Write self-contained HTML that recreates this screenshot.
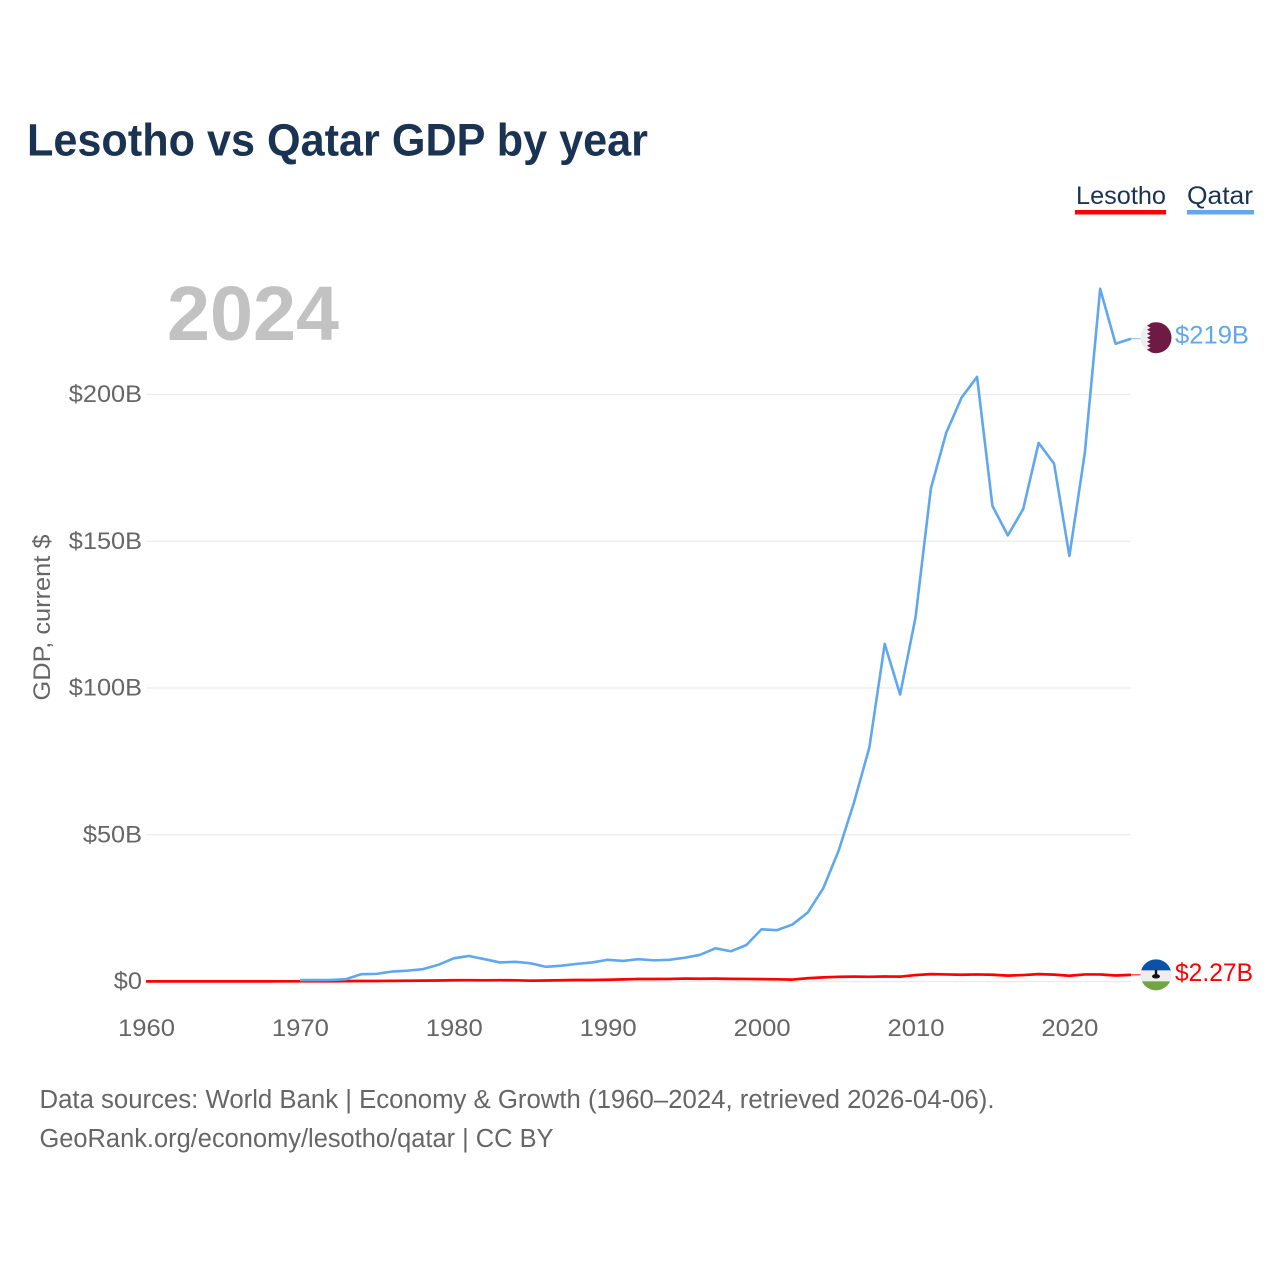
<!DOCTYPE html>
<html lang="en">
<head>
<meta charset="utf-8">
<title>Lesotho vs Qatar GDP by year</title>
<style>
html,body{margin:0;padding:0;background:#fff;width:1280px;height:1280px;overflow:hidden}
svg{display:block}
text{font-family:"Liberation Sans",sans-serif}
</style>
</head>
<body>
<svg id="chart" width="1280" height="1280" viewBox="0 0 1280 1280" xmlns="http://www.w3.org/2000/svg">
  <defs>
    <clipPath id="flag-clip-qatar"><circle cx="0" cy="0" r="15.5"></circle></clipPath>
    <clipPath id="flag-clip-lesotho"><circle cx="0" cy="0" r="15.5"></circle></clipPath>
  </defs>
  <text x="27" y="155.5" font-size="45" font-weight="700" fill="#1a3353" textLength="621" lengthAdjust="spacingAndGlyphs">Lesotho vs Qatar GDP by year</text>

  <g>
    <g>
      <text x="1076" y="204" font-size="25" fill="#1a3353" textLength="90" lengthAdjust="spacingAndGlyphs">Lesotho</text>
      <rect x="1075" y="210" width="91" height="4.5" fill="#ff0000"></rect>
    </g>
    <g>
      <text x="1187" y="204" font-size="25" fill="#1a3353" textLength="66" lengthAdjust="spacingAndGlyphs">Qatar</text>
      <rect x="1187" y="210" width="67" height="4.5" fill="#60a8ee"></rect>
    </g>
  </g>

  <text x="167" y="340" font-size="77" font-weight="700" fill="#c2c2c2" textLength="172" lengthAdjust="spacingAndGlyphs">2024</text>
  <text transform="translate(50,617.5) rotate(-90)" text-anchor="middle" font-size="24" fill="#666666" textLength="166" lengthAdjust="spacingAndGlyphs">GDP, current $</text>

  <g id="grid"></g>
  <g id="y-ticks"></g>
  <g id="x-ticks"></g>
  <g id="series"></g>
  <g id="ends"></g>

  <text x="39.5" y="1108" font-size="25.5" fill="#666666" textLength="955" lengthAdjust="spacingAndGlyphs">Data sources: World Bank | Economy &amp; Growth (1960–2024, retrieved 2026-04-06).</text>
  <text x="39.5" y="1147" font-size="25.5" fill="#666666" textLength="514" lengthAdjust="spacingAndGlyphs">GeoRank.org/economy/lesotho/qatar | CC BY</text>
</svg>

<script>
const xTickYears = [1960, 1970, 1980, 1990, 2000, 2010, 2020];
const yTickValues = [0, 50, 100, 150, 200];
const yTickLabels = ["$0", "$50B", "$100B", "$150B", "$200B"];

const lesothoYears = [1960,1961,1962,1963,1964,1965,1966,1967,1968,1969,1970,1971,1972,1973,1974,1975,1976,1977,1978,1979,1980,1981,1982,1983,1984,1985,1986,1987,1988,1989,1990,1991,1992,1993,1994,1995,1996,1997,1998,1999,2000,2001,2002,2003,2004,2005,2006,2007,2008,2009,2010,2011,2012,2013,2014,2015,2016,2017,2018,2019,2020,2021,2022,2023,2024];
const lesothoValues = [0.03,0.03,0.03,0.04,0.04,0.05,0.05,0.05,0.05,0.06,0.07,0.07,0.08,0.13,0.17,0.18,0.2,0.25,0.3,0.35,0.43,0.45,0.4,0.45,0.4,0.27,0.35,0.42,0.5,0.5,0.6,0.72,0.85,0.85,0.87,1.0,0.93,0.97,0.9,0.88,0.8,0.75,0.65,1.1,1.4,1.6,1.65,1.6,1.7,1.65,2.2,2.5,2.4,2.3,2.4,2.3,2.0,2.2,2.5,2.35,1.95,2.4,2.4,2.05,2.27];
const lesothoLabel = "$2.27B";

const qatarYears = [1970,1971,1972,1973,1974,1975,1976,1977,1978,1979,1980,1981,1982,1983,1984,1985,1986,1987,1988,1989,1990,1991,1992,1993,1994,1995,1996,1997,1998,1999,2000,2001,2002,2003,2004,2005,2006,2007,2008,2009,2010,2011,2012,2013,2014,2015,2016,2017,2018,2019,2020,2021,2022,2023,2024];
const qatarValues = [0.5,0.5,0.55,0.8,2.5,2.6,3.4,3.7,4.2,5.7,7.9,8.7,7.6,6.5,6.7,6.2,5.0,5.4,6.0,6.5,7.4,7.0,7.6,7.2,7.4,8.1,9.1,11.3,10.3,12.4,17.8,17.5,19.4,23.5,31.7,44.5,60.9,79.7,115,97.8,124,168,187,199,206,162,152,161,183.5,176.5,145,180,236,217.3,219];
const qatarLabel = "$219B";

const SVG_NS = "http://www.w3.org/2000/svg";
const xScale = function (year) { return 146 + (year - 1960) * 15.39; };
const yScale = function (value) { return 981.5 - value * 2.935; };

function make(tag, parent, attrs) {
  const el = document.createElementNS(SVG_NS, tag);
  Object.keys(attrs).forEach(function (k) { el.setAttribute(k, attrs[k]); });
  parent.appendChild(el);
  return el;
}
function linePath(years, values) {
  return years.map(function (yr, i) {
    return (i ? "L" : "M") + xScale(yr).toFixed(2) + " " + yScale(values[i]).toFixed(2);
  }).join(" ");
}

const grid = document.getElementById("grid");
const yTicks = document.getElementById("y-ticks");
const xTicks = document.getElementById("x-ticks");
const series = document.getElementById("series");
const ends = document.getElementById("ends");

yTickValues.forEach(function (v, i) {
  const ln = make("line", grid, {x1: 147, x2: 1131, y1: yScale(v), y2: yScale(v), stroke: "#ebebeb", "stroke-width": 1.3});
  
  
  const t = make("text", yTicks, {x: 142, y: yScale(v) + 7.5, "text-anchor": "end", "font-size": 24, fill: "#666666"});
  
  
  t.textContent = yTickLabels[i];
  t.setAttribute("textLength", (t.getComputedTextLength() * 1.055).toFixed(1));
  t.setAttribute("lengthAdjust", "spacingAndGlyphs");
});

xTickYears.forEach(function (yr) {
  const t = make("text", xTicks, {x: xScale(yr) + 0.5, y: 1036, "text-anchor": "middle", "font-size": 24, fill: "#666666"});
  
  
  t.textContent = String(yr);
  t.setAttribute("textLength", "57");
  t.setAttribute("lengthAdjust", "spacingAndGlyphs");
});

const lesothoLine = make("path", series, {d: linePath(lesothoYears, lesothoValues), fill: "none", stroke: "#ff0000", "stroke-width": 2.7, "stroke-linejoin": "round"});


const qatarLine = make("path", series, {d: linePath(qatarYears, qatarValues), fill: "none", stroke: "#60a8ee", "stroke-width": 2.6, "stroke-linejoin": "round"});



/* End markers */
const qx = xScale(qatarYears[qatarYears.length - 1]);
const qy = yScale(qatarValues[qatarValues.length - 1]);
const lx = xScale(lesothoYears[lesothoYears.length - 1]);
const ly = yScale(lesothoValues[lesothoValues.length - 1]);

const qLead = make("line", ends, {x1: qx, x2: 1141, y1: qy, y2: qy, stroke: "#60a8ee", "stroke-width": 1, opacity: 0.8});


const lLead = make("line", ends, {x1: lx, x2: 1141, y1: ly, y2: ly, stroke: "#ff0000", "stroke-width": 1});



const qFlag = make("g", ends, {transform: "translate(1156," + (qy - 1) + ")", "clip-path": "url(#flag-clip-qatar)"});


make("rect", qFlag, {x: -16, y: -16, width: 32, height: 32, fill: "#eeeeee"});
make("path", qFlag, {d: "M-9-16H16V16H-9L-5.5 14-9 12-5.5 10-9 8-5.5 6-9 4-5.5 2-9 0-5.5-2-9-4-5.5-6-9-8-5.5-10-9-12-5.5-14Z", fill: "#6f1a44"});

const lFlag = make("g", ends, {transform: "translate(1156," + ly + ")", "clip-path": "url(#flag-clip-lesotho)"});


make("rect", lFlag, {x: -16, y: -16, width: 32, height: 32, fill: "#eeeeee"});
make("rect", lFlag, {x: -16, y: -16, width: 32, height: 11.5, fill: "#0a51a8"});
make("rect", lFlag, {x: -16, y: 6.5, width: 32, height: 10, fill: "#6fa545"});
make("rect", lFlag, {x: -1.2, y: -5, width: 2.4, height: 6, fill: "#111111"});
make("ellipse", lFlag, {cx: 0, cy: 1.5, rx: 4, ry: 2.2, fill: "#111111"});

const qLabel = make("text", ends, {x: 1175, y: qy + 5, "font-size": 25, fill: "#60a8ee", textLength: 74, lengthAdjust: "spacingAndGlyphs"});


qLabel.textContent = qatarLabel;
const lLabel = make("text", ends, {x: 1175, y: ly + 6, "font-size": 25, fill: "#ff0000", textLength: 78, lengthAdjust: "spacingAndGlyphs"});


lLabel.textContent = lesothoLabel;
</script>
</body>
</html>
